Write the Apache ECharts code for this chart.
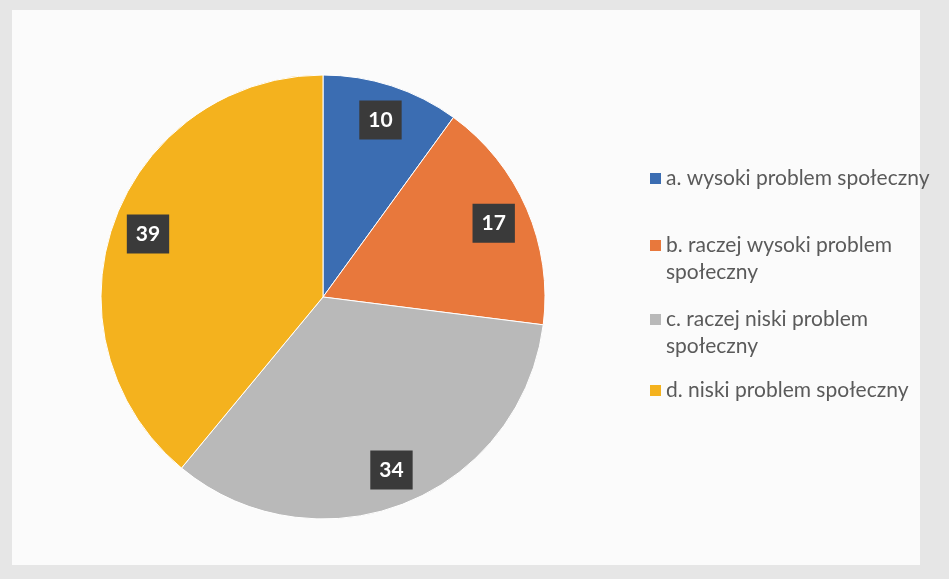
<!DOCTYPE html>
<html>
<head>
<meta charset="utf-8">
<script src="https://cdn.jsdelivr.net/npm/echarts@6/dist/echarts.min.js"></script>
<style>
  html, body { margin: 0; padding: 0; background: #e6e6e6; }
  #paper { position: absolute; left: 12px; top: 10px; width: 908px; height: 555px; background: #fbfbfb; }
  #chart { position: absolute; left: 0; top: 0; width: 949px; height: 579px; }
</style>
</head>
<body>
<div id="paper"></div>
<div id="chart"></div>
<script>
const categories = [
  'a. wysoki problem społeczny',
  'b. raczej wysoki problem społeczny',
  'c. raczej niski problem społeczny',
  'd. niski problem społeczny'
]
const legendText = [
  'a. wysoki problem społeczny',
  'b. raczej wysoki problem\nspołeczny',
  'c. raczej niski problem\nspołeczny',
  'd. niski problem społeczny'
]
const values = [10, 17, 34, 39]
const colors = ['#3b6db2', '#e8783c', '#b9b9b9', '#f4b21e']

const chart = echarts.init(document.getElementById('chart'))
const pieData = categories.map((name, i) => ({ name, value: values[i], itemStyle: { color: colors[i] } }))

// legend entries sit at uneven heights in the reference, so one legend per entry
const legendTops = [165, 232, 306, 377]
const legends = categories.map((name, i) => {
  const twoLines = legendText[i].includes('\n')
  return {
    data: [name],
    left: 650,
    top: legendTops[i],
    padding: 0,
    // for wrapped entries keep the square next to the first line
    icon: twoLines ? 'path://M0,0H11V11H0Z M0,38L0.01,38Z' : 'rect',
    itemWidth: 11,
    itemHeight: twoLines ? 38 : 11,
    itemGap: 0,
    itemStyle: { borderWidth: 0 },
    formatter: () => legendText[i],
    textStyle: {
      fontFamily: 'Lato',
      fontSize: 21,
      color: '#5a5a5a',
      lineHeight: 27
    }
  }
})

chart.setOption({
  backgroundColor: 'transparent',
  animation: false,
  legend: legends,
  series: [
    {
      type: 'pie',
      center: [323, 297],
      radius: [0, 222],
      startAngle: 90,
      clockwise: true,
      silent: true,
      label: { show: false },
      labelLine: { show: false },
      itemStyle: { borderColor: '#ffffff', borderWidth: 1 },
      data: pieData
    },
    {
      // transparent ring only to carry the value labels at ~0.82 r
      type: 'pie',
      center: [323, 297],
      radius: [144, 222],
      startAngle: 90,
      clockwise: true,
      silent: true,
      legendHoverLink: false,
      itemStyle: { color: 'transparent', borderWidth: 0 },
      label: {
        show: true,
        position: 'inside',
        formatter: '{c}',
        color: '#ffffff',
        fontFamily: 'Lato',
        fontWeight: 'bold',
        fontSize: 21,
        backgroundColor: '#3a3a3a',
        padding: [9, 9, 9, 9]
      },
      labelLine: { show: false },
      data: categories.map((name, i) => ({ name, value: values[i] }))
    }
  ]
})
</script>
</body>
</html>
